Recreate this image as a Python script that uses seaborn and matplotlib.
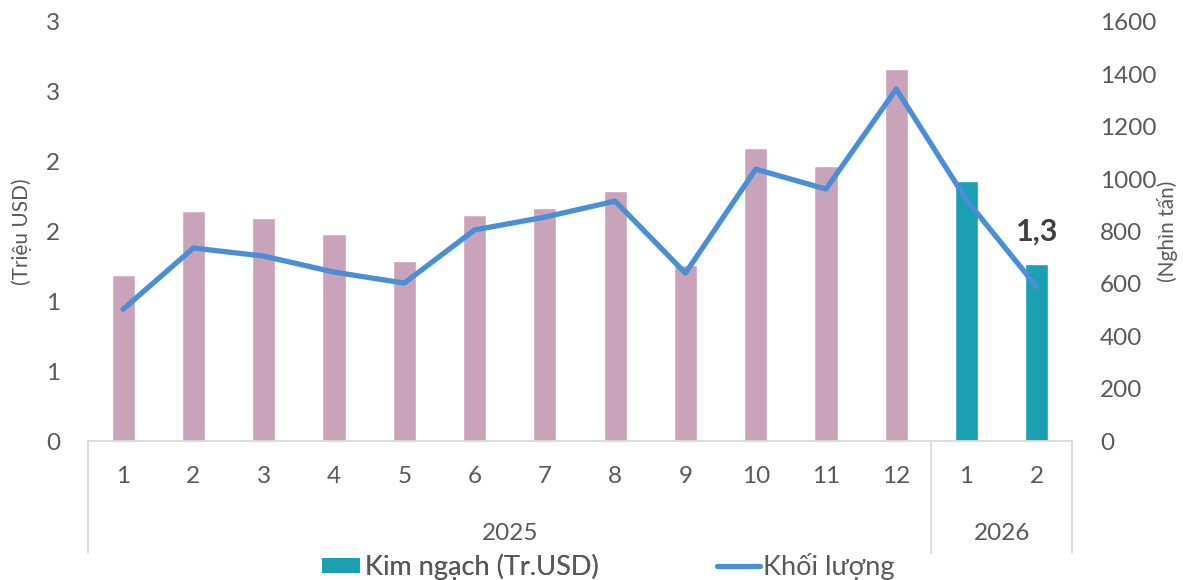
import matplotlib
matplotlib.use("Agg")
import matplotlib.pyplot as plt
import seaborn as sns
import pandas as pd
from matplotlib.patches import Patch
from matplotlib.lines import Line2D
import matplotlib.transforms as mtransforms

# Monthly export data
years = ["2025"] * 12 + ["2026"] * 2
months = ["1", "2", "3", "4", "5", "6", "7", "8", "9", "10", "11", "12", "1", "2"]
value_musd = [1.19, 1.65, 1.60, 1.48, 1.29, 1.62, 1.67, 1.79, 1.26, 2.10, 1.97, 2.66, 1.86, 1.27]
volume_kt = [503, 737, 706, 645, 603, 806, 855, 916, 641, 1038, 962, 1344, 920, 588]
left_ticks = [0, 0.5, 1, 1.5, 2, 2.5, 3]
left_tick_labels = ["0", "1", "1", "2", "2", "3", "3"]
right_ticks = [0, 200, 400, 600, 800, 1000, 1200, 1400, 1600]
value_label = "1,3"

sns.set_theme(style="white")
plt.rcParams["font.family"] = ["Lato", "Open Sans", "DejaVu Sans"]

TEXT = "#595959"
GRID = "#D9D9D9"
PINK = "#C9A3B9"
TEAL = "#1B9FB2"
BLUE = "#4A8ED6"
FS = 17.5

df = pd.DataFrame({
    "pos": [str(i) for i in range(len(months))],
    "year": years,
    "month": months,
    "value": value_musd,
    "volume": volume_kt,
})
bar_colors = [PINK if y == "2025" else TEAL for y in years]

W, H = 1183, 580
fig = plt.figure(figsize=(W / 100, H / 100), dpi=100)
ax = fig.add_axes([88 / W, 1 - 441 / H, (1072 - 88) / W, (441 - 22) / H])

sns.barplot(data=df, x="pos", y="value", hue="pos", palette=bar_colors,
            width=0.33, legend=False, ax=ax, saturation=1)
ax.set_xlim(-0.5, len(months) - 0.5)
ax.set_ylim(0, 3)
ax.set_yticks(left_ticks)
ax.set_yticklabels(left_tick_labels)
ax.tick_params(axis="y", length=0, pad=20, labelsize=FS, labelcolor=TEXT)
ax.set_xticks(range(len(months)))
ax.set_xticklabels(months)
ax.tick_params(axis="x", length=0, pad=18, labelsize=FS, labelcolor=TEXT)
ax.set_xlabel("")
ax.set_ylabel("(Triệu USD)", fontsize=15, color=TEXT, va="center")
ax.yaxis.set_label_coords((22 - 88) / (1072 - 88), (441 - 232) / (441 - 22))
for s in ax.spines.values():
    s.set_visible(False)

# Data label on the last bar
last = len(value_musd) - 1
ax.annotate(value_label, (last, value_musd[last]), xytext=(0, 23),
            textcoords="offset points", ha="center", va="center",
            fontsize=22, fontweight="bold", color="#404040")

# Right axis: volume line
ax2 = ax.twinx()
sns.lineplot(x=list(range(len(months))), y=volume_kt, ax=ax2, color=BLUE,
             linewidth=3.8, solid_capstyle="round", solid_joinstyle="round")
ax2.set_ylim(0, 1600)
ax2.set_yticks(right_ticks)
ax2.set_yticklabels([str(t) for t in right_ticks])
ax2.tick_params(axis="y", length=0, pad=20, labelsize=FS, labelcolor=TEXT)
ax2.set_ylabel("(Nghìn tấn)", fontsize=15, color=TEXT, rotation=90, va="center")
ax2.yaxis.set_label_coords((1167 - 88) / (1072 - 88), (441 - 231) / (441 - 22))
for s in ax2.spines.values():
    s.set_visible(False)

# Two-level category axis frame
trans = mtransforms.blended_transform_factory(ax.transData, ax.transAxes)
depth = -(553 - 441) / 419
ax.plot([-0.5, len(months) - 0.5], [0, 0], transform=trans, color=GRID, lw=1.3, clip_on=False)
n25 = years.count("2025")
for xb in [-0.5, n25 - 0.5, len(months) - 0.5]:
    ax.plot([xb, xb], [0, depth], transform=trans, color=GRID, lw=1.3, clip_on=False)
for yr in ["2025", "2026"]:
    idx = [i for i, y in enumerate(years) if y == yr]
    ax.text((idx[0] + idx[-1]) / 2, -(533 - 441) / 419, yr, transform=trans,
            ha="center", va="center", fontsize=FS, color=TEXT)

legend_y = 1 - 567 / H
leg1 = fig.legend([Patch(facecolor=TEAL, edgecolor="none")], ["Kim ngạch (Tr.USD)"],
                  loc="center left", bbox_to_anchor=(322 / W, legend_y), frameon=False,
                  fontsize=19.5, labelcolor=TEXT, handlelength=1.4, handleheight=0.5,
                  handletextpad=0.2, borderpad=0, borderaxespad=0)
fig.add_artist(leg1)
fig.legend([Line2D([0], [0], color=BLUE, lw=3.8, solid_capstyle="round")], ["Khối lượng"],
           loc="center left", bbox_to_anchor=(717 / W, legend_y), frameon=False,
           fontsize=19.5, labelcolor=TEXT, handlelength=1.6, handletextpad=0.1,
           borderpad=0, borderaxespad=0)

fig.savefig("out.png", dpi=100, facecolor="white")
